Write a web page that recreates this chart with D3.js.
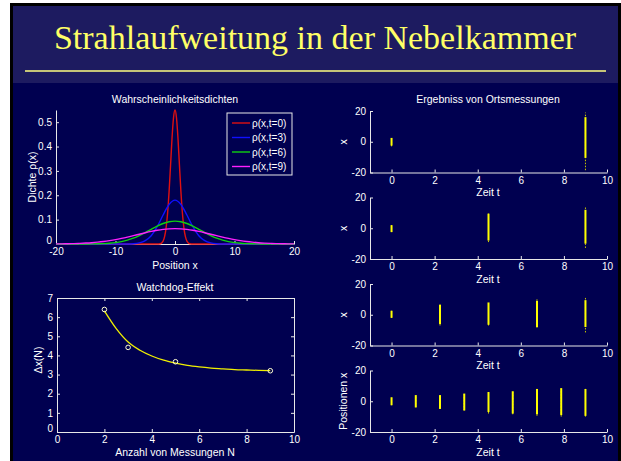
<!DOCTYPE html>
<html>
<head>
<meta charset="utf-8">
<script src="https://cdn.jsdelivr.net/npm/d3@7"></script>
<style>
  body { margin: 0; background: #fff; }
  text { font-family: "Liberation Sans", Arial, sans-serif; fill: #fff; }
</style>
</head>
<body>
<div id="plot"></div>
<script>
// Wahrscheinlichkeitsdichten
var posRed = [-20, -3, -2.5, -2, -1.75, -1.5, -1.25, -1, -0.75, -0.5, -0.25, 0, 0.25, 0.5, 0.75, 1, 1.25, 1.5, 1.75, 2, 2.5, 3, 20];
var rhoRed = [0, 0, 0.001, 0.012, 0.030, 0.065, 0.125, 0.213, 0.322, 0.434, 0.518, 0.55, 0.518, 0.434, 0.322, 0.213, 0.125, 0.065, 0.030, 0.012, 0.001, 0, 0];
var posBlue = [-20, -9, -8, -7, -6, -5, -4, -3, -2, -1, 0, 1, 2, 3, 4, 5, 6, 7, 8, 9, 20];
var rhoBlue = [0, 0, 0.0002, 0.0011, 0.0044, 0.0136, 0.034, 0.071, 0.119, 0.162, 0.18, 0.162, 0.119, 0.071, 0.034, 0.0136, 0.0044, 0.0011, 0.0002, 0, 0];
var posWide = [-20, -19, -18, -17, -16, -15, -14, -13, -12, -11, -10, -9, -8, -7, -6, -5, -4, -3, -2, -1, 0,
               1, 2, 3, 4, 5, 6, 7, 8, 9, 10, 11, 12, 13, 14, 15, 16, 17, 18, 19, 20];
var rhoGreen = [0, 0, 0, 0, 0.0001, 0.0002, 0.0004, 0.0008, 0.0017, 0.0032, 0.0058, 0.0098, 0.0157, 0.0239, 0.0344, 0.0468, 0.0601, 0.0731, 0.0841, 0.0914, 0.094,
                0.0914, 0.0841, 0.0731, 0.0601, 0.0468, 0.0344, 0.0239, 0.0157, 0.0098, 0.0058, 0.0032, 0.0017, 0.0008, 0.0004, 0.0002, 0.0001, 0, 0, 0, 0];
var rhoMagenta = [0.0004, 0.0007, 0.0011, 0.0017, 0.0026, 0.0038, 0.0054, 0.0076, 0.0104, 0.0139, 0.018, 0.0229, 0.0283, 0.0341, 0.0401, 0.0461, 0.0516, 0.0563, 0.0599, 0.0622, 0.063,
                  0.0622, 0.0599, 0.0563, 0.0516, 0.0461, 0.0401, 0.0341, 0.0283, 0.0229, 0.018, 0.0139, 0.0104, 0.0076, 0.0054, 0.0038, 0.0026, 0.0017, 0.0011, 0.0007, 0.0004];
var legendLabels = ["\u03c1(x,t=0)", "\u03c1(x,t=3)", "\u03c1(x,t=6)", "\u03c1(x,t=9)"];
var curveColors = ["#e01010", "#1010ff", "#10d010", "#ff20ff"];
var densTicksX = [-20, -10, 0, 10, 20];
var densTicksY = [0, 0.1, 0.2, 0.3, 0.4, 0.5];

// Watchdog-Effekt
var anzahlN = [2, 3, 5, 9];
var deltaX = [6.4, 4.42, 3.67, 3.2];
var fitN = [2, 2.5, 3, 3.5, 4, 4.5, 5, 5.5, 6, 6.5, 7, 7.5, 8, 8.5, 9];
var fitDeltaX = [6.33, 5.4, 4.7, 4.27, 3.97, 3.75, 3.6, 3.48, 3.4, 3.34, 3.3, 3.26, 3.24, 3.22, 3.21];
var watchTicksX = [0, 2, 4, 6, 8, 10];
var watchTicksY = [0, 1, 2, 3, 4, 5, 6, 7];

// Ortsmessungen: one list per panel
var messZeit = [[0, 9], [0, 4.5, 9], [0, 2.25, 4.5, 6.75, 9], [0, 1.125, 2.25, 3.375, 4.5, 5.625, 6.75, 7.875, 9]];
var kernUnten = [[-2.5, -10.5], [-2.5, -8, -10], [-2, -6, -6.5, -8, -8], [-2.6, -4, -5, -6, -7, -8, -8.5, -9, -9.5]];
var kernOben = [[2.5, 16], [2, 9.5, 12], [2.6, 6.5, 8, 9, 9.5], [2.6, 4, 4, 5, 6, 6.5, 8, 8.5, 8]];
var streuUnten = [[-3, -18.5], [-2.5, -9, -12.8], [-2, -7, -7, -8.5, -11.5], [-2.6, -4, -5, -6, -8, -8.5, -9.5, -10, -10]];
var streuOben = [[2.5, 19], [2, 10, 13.5], [2.6, 7, 8.4, 11, 11], [2.6, 4, 4, 5, 6, 6.5, 8, 8.5, 8]];
var messYLabels = ["x", "x", "x", "Positionen x"];
var zeitTicks = [0, 2, 4, 6, 8, 10];
var ortTicks = [-20, 0, 20];

var width = 621, height = 461;
var axisColor = "#e8e8e8";
var plain = function(d){ return String(d); };

var svg = d3.select("div#plot").append("svg")
  .attr("width", width).attr("height", height);

// slide background
svg.append("rect").attr("x", 10).attr("y", 3).attr("width", 611).attr("height", 458).attr("fill", "#000");
svg.append("rect").attr("x", 13).attr("y", 6).attr("width", 605).attr("height", 77).attr("fill", "#1d1b60");
svg.append("rect").attr("x", 13).attr("y", 83).attr("width", 605).attr("height", 378).attr("fill", "#000050");

svg.append("text")
  .attr("x", 315).attr("y", 49)
  .attr("text-anchor", "middle")
  .style("font-family", "'Liberation Serif', 'Times New Roman', serif")
  .style("font-size", "34px")
  .style("fill", "#ffff66")
  .text("Strahlaufweitung in der Nebelkammer");
svg.append("line").attr("x1", 25).attr("x2", 606).attr("y1", 71).attr("y2", 71)
  .attr("stroke", "#ffff80").attr("stroke-width", 1.4);

function styleAxis(g) {
  g.selectAll("path, line").attr("stroke", axisColor);
  g.selectAll("text").style("fill", "#fff").style("font-size", "10px")
    .style("font-family", "'Liberation Sans', Arial, sans-serif");
}

function label(x, y, txt, rotate) {
  var t = svg.append("text")
    .attr("text-anchor", "middle")
    .attr("dy", "0.35em")
    .style("font-size", "10.5px")
    .text(txt);
  if (rotate) t.attr("transform", "translate(" + x + "," + y + ") rotate(-90)");
  else t.attr("x", x).attr("y", y);
  return t;
}

// ---- Wahrscheinlichkeitsdichten ----
var dx = d3.scaleLinear().domain([-20, 20]).range([56, 294]);
var dy = d3.scaleLinear().domain([0, 0.55]).range([244, 110]);

svg.append("g").attr("transform", "translate(0,244)")
  .call(d3.axisBottom(dx).tickValues(densTicksX).tickFormat(plain).tickSizeInner(-3).tickSizeOuter(0).tickPadding(4))
  .call(styleAxis);
svg.append("g").attr("transform", "translate(56,0)")
  .call(d3.axisLeft(dy).tickValues(densTicksY).tickFormat(plain).tickSizeInner(-3).tickSizeOuter(0).tickPadding(4))
  .call(styleAxis)
  .selectAll(".tick text").filter(function(d){ return d === 0; }).attr("dy", "-0.05em");

var densSeries = [[posRed, rhoRed], [posBlue, rhoBlue], [posWide, rhoGreen], [posWide, rhoMagenta]];
var densLine = d3.line().x(function(d){ return dx(d[0]); }).y(function(d){ return dy(d[1]); }).curve(d3.curveMonotoneX);
densSeries.forEach(function(s, i){
  svg.append("path")
    .datum(d3.zip(s[0], s[1]))
    .attr("d", densLine)
    .attr("fill", "none")
    .attr("stroke", curveColors[i])
    .attr("stroke-width", 1.4);
});

label(175, 99, "Wahrscheinlichkeitsdichten");
label(175, 265, "Position x");
label(32, 177, "Dichte \u03c1(x)", true);

// legend
var leg = svg.append("g").attr("transform", "translate(227,113)");
leg.append("rect").attr("width", 65).attr("height", 62)
  .attr("fill", "#000050").attr("stroke", axisColor).attr("stroke-width", 1);
legendLabels.forEach(function(l, i){
  var yy = 10 + i * 14.5;
  leg.append("line").attr("x1", 5).attr("x2", 23).attr("y1", yy).attr("y2", yy)
    .attr("stroke", curveColors[i]).attr("stroke-width", 1.4);
  leg.append("text").attr("x", 25).attr("y", yy).attr("dy", "0.35em")
    .style("font-size", "10px").text(l);
});

// ---- Watchdog-Effekt ----
var wx = d3.scaleLinear().domain([0, 10]).range([57, 294]);
var wy = d3.scaleLinear().domain([0, 7]).range([432, 298]);

svg.append("g").attr("transform", "translate(0,432)")
  .call(d3.axisBottom(wx).tickValues(watchTicksX).tickFormat(plain).tickSizeInner(-3).tickSizeOuter(0).tickPadding(4))
  .call(styleAxis);
svg.append("g").attr("transform", "translate(0,298)")
  .call(d3.axisTop(wx).tickValues(watchTicksX).tickSizeInner(-3).tickSizeOuter(0).tickFormat(""))
  .call(styleAxis);
svg.append("g").attr("transform", "translate(57,0)")
  .call(d3.axisLeft(wy).tickValues(watchTicksY).tickFormat(plain).tickSizeInner(-3).tickSizeOuter(0).tickPadding(4))
  .call(styleAxis)
  .selectAll(".tick text").filter(function(d){ return d === 0; }).attr("dy", "-0.05em");
svg.append("g").attr("transform", "translate(294,0)")
  .call(d3.axisRight(wy).tickValues(watchTicksY).tickSizeInner(-3).tickSizeOuter(0).tickFormat(""))
  .call(styleAxis);

svg.append("path")
  .datum(d3.zip(fitN, fitDeltaX))
  .attr("d", d3.line().x(function(d){ return wx(d[0]); }).y(function(d){ return wy(d[1]); }).curve(d3.curveMonotoneX))
  .attr("fill", "none").attr("stroke", "#f0f000").attr("stroke-width", 1.3);

svg.selectAll("circle.mess")
  .data(d3.zip(anzahlN, deltaX))
  .enter().append("circle")
  .attr("class", "mess")
  .attr("cx", function(d){ return wx(d[0]); })
  .attr("cy", function(d){ return wy(d[1]); })
  .attr("r", 2.3)
  .attr("fill", "none").attr("stroke", "#ffffd0").attr("stroke-width", 1);

label(175, 287, "Watchdog-Effekt");
label(175, 452, "Anzahl von Messungen N");
label(38, 360, "\u0394x(N)", true);

// ---- Ortsmessungen ----
var tx = d3.scaleLinear().domain([-1, 10]).range([370, 607]);
var panelTops = [111, 197.5, 284, 370.5];
var panelH = 61.5;

messZeit.forEach(function(zeiten, p){
  var top = panelTops[p], bottom = top + panelH;
  var py = d3.scaleLinear().domain([-20, 20]).range([bottom, top]);

  svg.append("g").attr("transform", "translate(0," + bottom + ")")
    .call(d3.axisBottom(tx).tickValues(zeitTicks).tickFormat(plain).tickSizeInner(-3).tickSizeOuter(0).tickPadding(4))
    .call(styleAxis);
  svg.append("g").attr("transform", "translate(370,0)")
    .call(d3.axisLeft(py).tickValues(ortTicks).tickFormat(plain).tickSizeInner(-3).tickSizeOuter(0).tickPadding(4))
    .call(styleAxis);

  var g = svg.append("g");
  g.selectAll("line.streu").data(zeiten).enter().append("line")
    .attr("class", "streu")
    .attr("x1", function(d){ return tx(d); }).attr("x2", function(d){ return tx(d); })
    .attr("y1", function(d, i){ return py(streuUnten[p][i]); })
    .attr("y2", function(d, i){ return py(streuOben[p][i]); })
    .attr("stroke", "#c8c800").attr("stroke-width", 1).attr("stroke-dasharray", "1.5,1.5");
  g.selectAll("line.kern").data(zeiten).enter().append("line")
    .attr("class", "kern")
    .attr("x1", function(d){ return tx(d); }).attr("x2", function(d){ return tx(d); })
    .attr("y1", function(d, i){ return py(kernUnten[p][i]); })
    .attr("y2", function(d, i){ return py(kernOben[p][i]); })
    .attr("stroke", "#ffff00").attr("stroke-width", 2);

  label(343, top + panelH / 2, messYLabels[p], true);
  label(488, bottom + 20, "Zeit t");
});
label(488, 99, "Ergebniss von Ortsmessungen");
</script>
</body>
</html>
